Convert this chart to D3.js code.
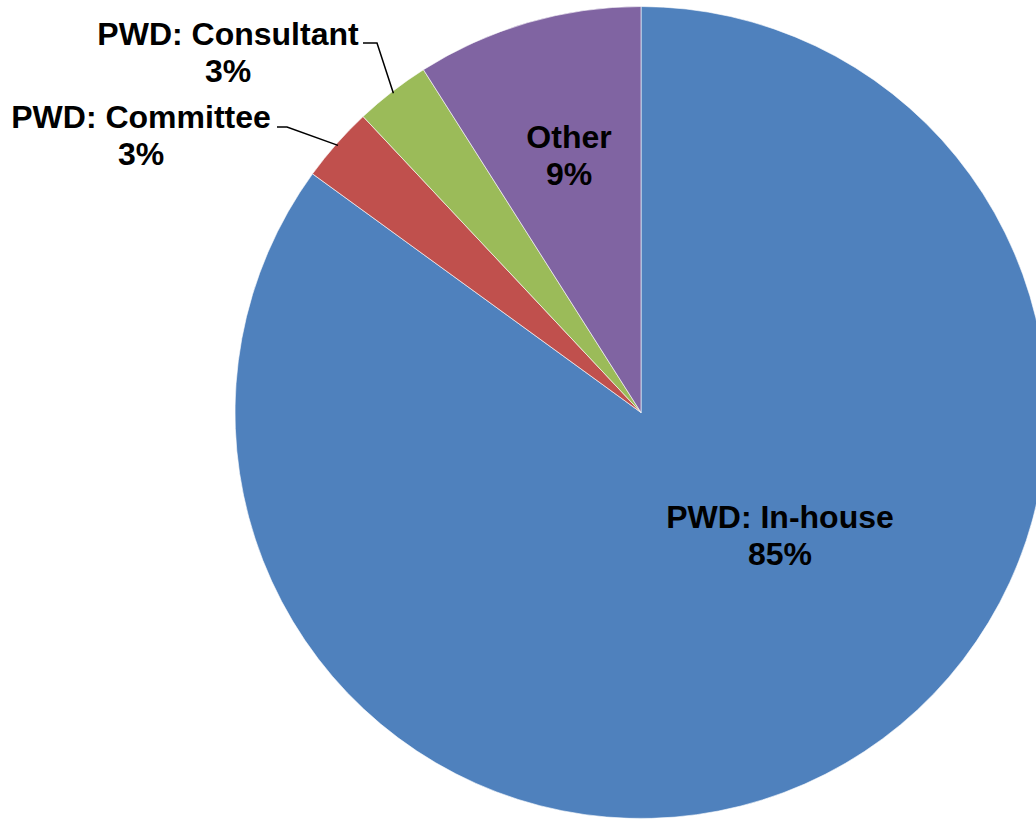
<!DOCTYPE html>
<html>
<head>
<meta charset="utf-8">
<script src="https://cdn.jsdelivr.net/npm/d3@7"></script>
<style>
  html, body { margin: 0; padding: 0; background: #fff; }
  svg { display: block; }
  text { font-family: "Liberation Sans", Arial, sans-serif; font-weight: bold; fill: #000; }
</style>
</head>
<body>
<svg id="chart" width="1036" height="820"></svg>
<script>
// Share of work by delivery route (percent)
const categories = ["PWD: In-house", "PWD: Committee", "PWD: Consultant", "Other"];
const shares = [85, 3, 3, 9];
const colors = ["#4F81BD", "#C0504D", "#9BBB59", "#8064A2"];

const svg = d3.select("#chart");
const cx = 641, cy = 412.5, radius = 406;
const fontSize = 32, lineGap = 37;

const data = categories.map((name, i) => ({ name, value: shares[i], color: colors[i] }));

const pie = d3.pie().value(d => d.value).sort(null);
const arc = d3.arc().innerRadius(0).outerRadius(radius);
const arcs = pie(data);

const g = svg.append("g").attr("transform", `translate(${cx},${cy})`);

g.selectAll("path.slice")
  .data(arcs)
  .join("path")
  .attr("class", "slice")
  .attr("d", arc)
  .attr("fill", d => d.data.color)
  .attr("stroke", "#fff")
  .attr("stroke-width", 1)
  .attr("stroke-opacity", 0.6);

// Label placement: inside labels for large slices, outside with leaders for thin ones
const labelPos = {
  "PWD: In-house": { x: 780, y: 528, inside: true },
  "Other": { x: 569, y: 148, inside: true },
  "PWD: Committee": { x: 141, y: 128, leader: [[277, 127], [287, 127]] },
  "PWD: Consultant": { x: 228, y: 45, leader: [[363, 43], [377, 43]] }
};

const labels = svg.append("g");

arcs.forEach(a => {
  const p = labelPos[a.data.name];
  const t = labels.append("text")
    .attr("text-anchor", "middle")
    .attr("font-size", fontSize);
  t.append("tspan").attr("x", p.x).attr("y", p.y).text(a.data.name);
  t.append("tspan").attr("x", p.x).attr("y", p.y + lineGap).text(d3.format(".0f")(a.data.value) + "%");

  if (p.leader) {
    // Leader ends on the slice's mid-angle, just inside the rim
    const mid = (a.startAngle + a.endAngle) / 2;
    const r = radius * 0.995;
    const ex = cx + r * Math.sin(mid);
    const ey = cy - r * Math.cos(mid);
    const pts = p.leader.concat([[ex, ey]]);
    labels.append("path")
      .attr("d", d3.line()(pts))
      .attr("fill", "none")
      .attr("stroke", "#000")
      .attr("stroke-width", 1.5);
  }
});
</script>
</body>
</html>
